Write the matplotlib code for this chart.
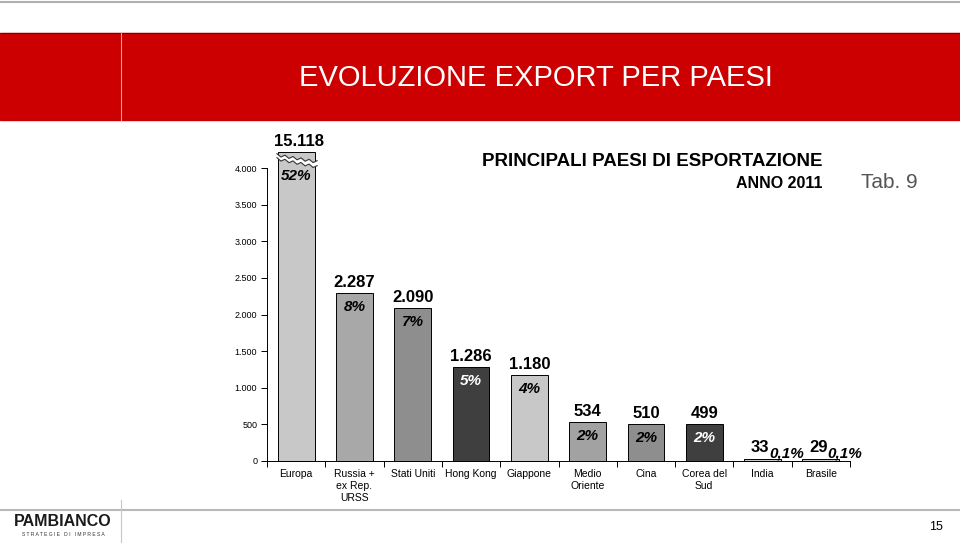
import numpy as np
import matplotlib.pyplot as plt
from matplotlib.patches import Rectangle, Polygon
from matplotlib.lines import Line2D

plt.rcParams['font.family'] = ['Liberation Sans', 'DejaVu Sans']

# data
paesi = ['Europa', 'Russia +\nex Rep.\nURSS', 'Stati Uniti', 'Hong Kong', 'Giappone',
         'Medio\nOriente', 'Cina', 'Corea del\nSud', 'India', 'Brasile']
valori = [15118, 2287, 2090, 1286, 1180, 534, 510, 499, 33, 29]
etichette = ['15.118', '2.287', '2.090', '1.286', '1.180', '534', '510', '499', '33', '29']
quote = ['52%', '8%', '7%', '5%', '4%', '2%', '2%', '2%', '0,1%', '0,1%']
colori = ['#c8c8c8', '#a8a8a8', '#8e8e8e', '#3f3f3f', '#c8c8c8',
          '#a2a2a2', '#8e8e8e', '#3f3f3f', '#c8c8c8', '#c8c8c8']
y_ticks = [0, 500, 1000, 1500, 2000, 2500, 3000, 3500, 4000]
y_labels = ['0', '500', '1.000', '1.500', '2.000', '2.500', '3.000', '3.500', '4.000']

fig = plt.figure(figsize=(9.6, 5.43), dpi=100)
H = 543.0

# header
fig.patches.append(Rectangle((0, 1 - 120 / H), 1, 87 / H, transform=fig.transFigure,
                             color='#cc0000', zorder=0))
fig.add_artist(Line2D([0, 1], [1 - 2 / H] * 2, transform=fig.transFigure, color='#b0b0b0', lw=1.5))
fig.add_artist(Line2D([0, 1], [1 - 33 / H] * 2, transform=fig.transFigure, color='#7a0000', lw=0.8))
fig.add_artist(Line2D([121 / 960] * 2, [1 - 120 / H, 1 - 33 / H], transform=fig.transFigure,
                      color='#e8a0a0', lw=0.8))
fig.text(536 / 960, 1 - 78 / H, 'EVOLUZIONE EXPORT PER PAESI', color='white',
         fontsize=21, ha='center', va='center',
         family=['Liberation Sans Narrow', 'Liberation Sans'])

# footer
fig.add_artist(Line2D([0, 1], [1 - 510 / H] * 2, transform=fig.transFigure, color='#b8b8b8', lw=1.5))
fig.add_artist(Line2D([121 / 960] * 2, [0, 1 - 500 / H], transform=fig.transFigure,
                      color='#c8c8c8', lw=0.8))
fig.text(63 / 960, 1 - 522 / H, 'PAMBIANCO', fontsize=11.5, fontweight='heavy',
         ha='center', va='center', color='#1a1a1a')
fig.text(63 / 960, 1 - 535 / H, 'S T R A T E G I E   D I   I M P R E S A', fontsize=3.6,
         ha='center', va='center', color='#333333')
fig.text(936 / 960, 1 - 527 / H, '15', fontsize=9, ha='center', va='center')

# subtitles
fig.text(823 / 960, 1 - 162 / H, 'PRINCIPALI PAESI DI ESPORTAZIONE', fontsize=13.5,
         fontweight='bold', ha='right', va='center')
fig.text(823 / 960, 1 - 183 / H, 'ANNO 2011', fontsize=11.5, fontweight='bold',
         ha='right', va='center')
fig.text(889 / 960, 1 - 182 / H, 'Tab. 9', fontsize=15, ha='center', va='center',
         color='#555555')

ax = fig.add_axes([267 / 960, 82 / H, 583 / 960, 293 / H])
x = np.arange(len(paesi))
cap = 4220
alt = [min(v, cap) for v in valori]
bars = ax.bar(x, alt, width=0.63, color=colori, edgecolor='black', linewidth=0.7,
              clip_on=False, zorder=2)

ax.set_xlim(-0.5, len(paesi) - 0.5)
ax.set_ylim(0, 4000)
ax.set_yticks(y_ticks)
ax.set_yticklabels(y_labels, fontsize=6.5)
ax.set_xticks(np.arange(len(paesi) + 1) - 0.5)
ax.set_xticklabels([])
ax.set_xticks(x, minor=True)
ax.set_xticklabels(paesi, minor=True, fontsize=7.5, linespacing=1.25)
ax.tick_params(axis='x', which='major', length=4, width=0.7, direction='out')
ax.tick_params(axis='x', which='minor', length=0, pad=6)
ax.tick_params(axis='y', length=4, width=0.7, pad=3)
for s in ['top', 'right']:
    ax.spines[s].set_visible(False)
for s in ['left', 'bottom']:
    ax.spines[s].set_linewidth(0.7)
ax.patch.set_alpha(0)

# axis break (sawtooth) on the Europa bar
n = 11
xs = np.linspace(-0.33, 0.36, n)
teeth = np.where(np.arange(n) % 2 == 0, 18, -18)
top = np.linspace(4177, 4082, n) + teeth
bot = np.linspace(4123, 4014, n) + teeth
poly = np.vstack([np.column_stack([xs, top]), np.column_stack([xs[::-1], bot[::-1]])])
ax.add_patch(Polygon(poly, closed=True, facecolor='white', edgecolor='none',
                     clip_on=False, zorder=3))
ax.plot(xs, top, color='#333333', lw=0.8, clip_on=False, zorder=4)
ax.plot(xs, bot, color='#333333', lw=0.8, clip_on=False, zorder=4)

for i, b in enumerate(bars):
    cx = b.get_x() + b.get_width() / 2
    h = b.get_height()
    dark = colori[i] == '#3f3f3f'
    if valori[i] < 100:
        ax.annotate(etichette[i], (cx + 0.12, h), xytext=(0, 4), textcoords='offset pixels',
                    ha='right', va='bottom', fontsize=12, fontweight='bold')
        ax.annotate(quote[i], (cx + 0.12, h), xytext=(0, -2), textcoords='offset pixels',
                    ha='left', va='bottom', fontsize=11, fontweight='bold', style='italic')
        continue
    ax.annotate(etichette[i], (cx + (0.05 if i == 0 else 0), h), xytext=(0, 3),
                textcoords='offset pixels', ha='center', va='bottom',
                fontsize=12, fontweight='bold', annotation_clip=False)
    off = -24 if i == 0 else -14
    ax.annotate(quote[i], (cx, h), xytext=(0, off), textcoords='offset pixels',
                ha='center', va='center', fontsize=11, fontweight='bold', style='italic',
                color='white' if dark else 'black', annotation_clip=False, zorder=5)

fig.savefig('out.png', dpi=100)
